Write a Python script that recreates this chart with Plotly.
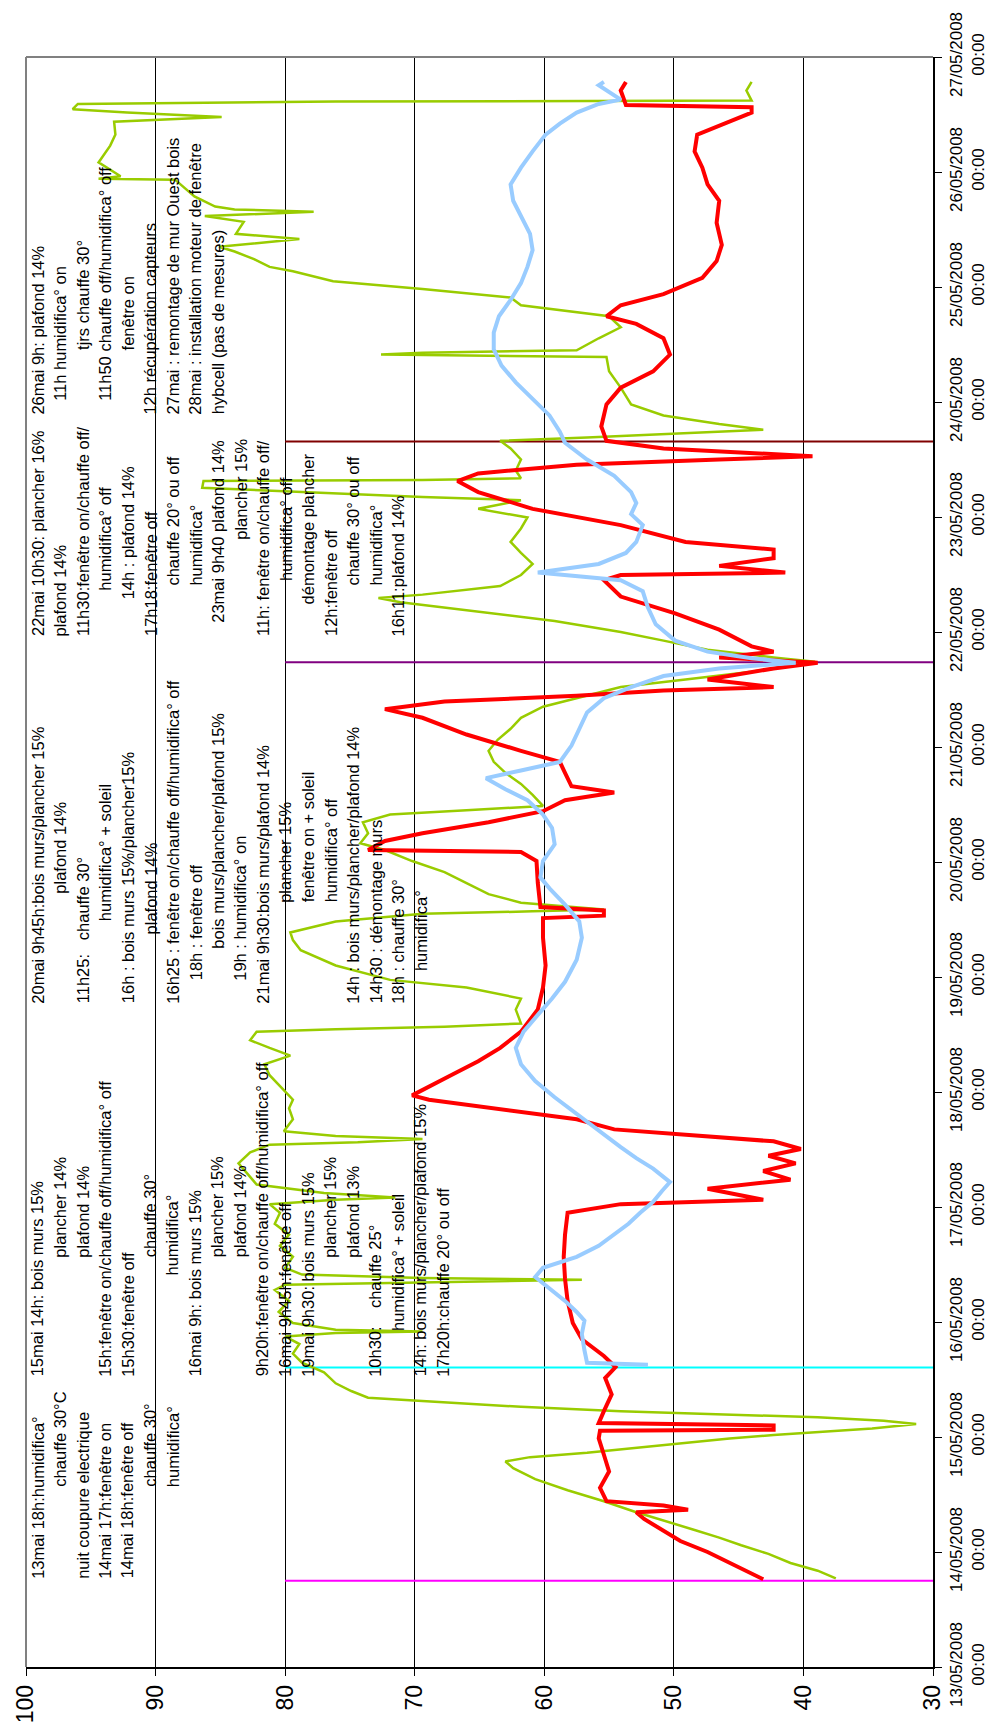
import pandas as pd
import plotly.graph_objects as go

# --- data; time in hours after 13/05/2008 00:00 ---
red_hours = [18.3, 21.3, 24.0, 26.3, 28.6, 30.9, 32.3, 32.8, 33.7, 34.6,
             37.4, 40.8, 44.3, 47.7, 49.3, 49.5, 50.4, 50.9, 53.4, 56.9,
             60.3, 62.6, 64.9, 68.4, 71.8, 76.4, 81.0, 85.6, 90.2, 94.8,
             96.6, 97.5, 99.8, 101.7, 103.5, 105.1, 106.7, 108.1, 109.7, 111.3,
             112.2, 114.3, 115.9, 117.3, 118.4, 119.3, 121.2, 123.5, 126.4, 129.2,
             132.6, 137.2, 141.8, 146.4, 152.2, 156.3, 156.8, 157.9, 158.6, 163.6,
             168.2, 170.1, 170.5, 172.4, 174.0, 176.3, 178.6, 180.9, 182.5, 183.8,
             186.6, 188.9, 191.2, 194.6, 198.1, 199.9, 201.5, 202.7, 203.8, 204.5,
             206.1, 208.4, 209.6, 210.7, 211.9, 213.0, 216.5, 219.9, 223.4, 226.8,
             227.9, 228.4, 229.8, 231.4, 233.2, 234.8, 238.3, 241.7, 245.2, 247.5,
             249.1, 250.9, 252.0, 252.7, 254.3, 255.9, 258.9, 263.5, 267.0, 270.4,
             273.9, 277.3, 280.3, 281.9, 284.2, 286.5, 289.9, 293.4, 296.8, 301.4,
             306.0, 309.4, 312.9, 316.3, 319.8, 322.1, 324.4, 325.5, 326.0, 329.0,
             330.8]
red_val = [43.1, 45.3, 47.4, 49.5, 50.9, 52.3, 52.9, 48.9, 50.8, 55.2,
           55.7, 55.0, 55.4, 55.8, 55.7, 42.3, 42.3, 55.8, 55.4, 54.8,
           55.3, 54.5, 55.4, 57.1, 57.8, 58.2, 58.4, 58.5, 58.4, 58.2,
           54.1, 43.1, 47.4, 41.0, 43.1, 40.6, 42.7, 40.2, 42.3, 50.8,
           54.6, 57.5, 61.8, 66.0, 68.9, 70.2, 68.9, 67.2, 65.1, 63.4,
           61.8, 60.5, 60.1, 59.9, 60.1, 60.1, 55.4, 55.4, 60.3, 60.5,
           60.6, 61.8, 73.6, 72.3, 69.4, 64.3, 60.1, 58.4, 54.6, 57.9,
           58.4, 58.8, 61.8, 66.0, 69.4, 72.3, 67.7, 57.5, 50.8, 42.3,
           47.4, 42.3, 38.9, 46.5, 42.3, 44.0, 46.5, 49.9, 54.1, 55.4,
           54.1, 41.4, 46.5, 42.3, 42.3, 49.1, 54.1, 60.9, 65.1, 66.7,
           65.1, 57.5, 46.5, 39.3, 50.8, 55.2, 55.6, 55.2, 54.1, 51.6,
           50.3, 50.8, 52.9, 55.2, 54.1, 50.8, 47.8, 46.7, 46.3, 46.7,
           46.5, 47.4, 47.8, 48.4, 48.2, 46.1, 44.0, 44.0, 53.7, 54.1,
           53.7]

blue_hours = [63.1, 63.5, 66.1, 69.5, 72.3, 74.1, 76.4, 79.1, 81.4, 83.3,
              85.6, 87.9, 90.2, 92.5, 94.8, 97.1, 99.4, 101.2, 104.0, 106.2,
              108.5, 112.0, 115.4, 118.9, 122.3, 125.8, 129.2, 132.6, 136.1, 139.5,
              143.0, 147.6, 152.2, 155.6, 159.1, 162.5, 164.8, 168.2, 171.7, 175.1,
              177.9, 180.9, 183.2, 185.5, 187.1, 188.9, 192.3, 195.8, 199.2, 202.2,
              204.5, 206.8, 208.4, 209.6, 210.5, 211.9, 214.2, 217.6, 221.1, 224.5,
              226.8, 228.4, 230.2, 232.5, 234.8, 238.3, 240.6, 242.9, 245.2, 248.6,
              252.0, 255.5, 257.8, 261.2, 264.7, 268.1, 271.6, 275.0, 278.5, 281.9,
              285.3, 288.8, 292.2, 295.7, 299.1, 302.6, 306.0, 309.4, 312.9, 316.3,
              319.8, 322.1, 324.4, 326.2, 327.1, 330.1, 330.8]
blue_val = [52.0, 56.7, 56.9, 57.1, 56.9, 57.5, 58.4, 59.6, 60.7, 60.1,
            57.5, 55.8, 54.6, 53.5, 52.6, 51.6, 50.9, 50.3, 51.6, 52.9,
            54.1, 55.8, 57.5, 59.2, 60.7, 61.8, 62.2, 61.6, 60.5, 59.4,
            58.4, 57.5, 57.1, 57.3, 58.4, 59.6, 60.3, 60.1, 59.2, 59.4,
            60.1, 61.3, 63.0, 64.5, 61.8, 58.8, 57.9, 57.3, 56.7, 55.4,
            53.3, 50.8, 46.5, 40.6, 44.0, 47.4, 49.9, 51.4, 52.0, 52.4,
            54.1, 60.5, 55.8, 53.7, 52.9, 52.4, 53.3, 52.9, 53.3, 54.6,
            56.7, 58.4, 58.8, 59.6, 60.9, 62.2, 63.3, 63.9, 63.9, 63.5,
            62.6, 61.8, 61.3, 60.9, 61.1, 61.8, 62.4, 62.6, 61.8, 60.9,
            59.9, 58.8, 57.5, 55.8, 54.1, 55.8, 55.4]

green_hours = [18.5, 20.1, 21.7, 23.6, 25.4, 27.0, 28.6, 30.5, 32.3, 34.6,
               36.9, 39.2, 41.5, 42.9, 43.8, 44.7, 45.9, 46.8, 47.7, 48.4,
               49.1, 49.8, 50.7, 51.4, 52.1, 52.7, 53.4, 54.3, 55.3, 56.2,
               57.6, 59.2, 61.5, 63.5, 65.4, 67.4, 69.0, 69.7, 70.0, 70.4,
               71.8, 74.1, 76.4, 78.7, 79.8, 80.3, 80.8, 81.2, 81.9, 83.3,
               85.6, 87.9, 90.2, 92.5, 94.8, 96.6, 97.5, 98.0, 98.9, 100.7,
               102.8, 105.1, 107.4, 109.0, 109.5, 110.2, 110.8, 111.8, 114.3, 116.6,
               118.4, 121.2, 123.5, 125.8, 127.6, 129.2, 130.8, 132.6, 133.1, 133.6,
               134.3, 137.2, 139.5, 141.8, 143.4, 146.4, 149.6, 151.7, 153.3, 155.6,
               157.2, 157.7, 158.1, 159.5, 161.3, 163.6, 165.9, 168.2, 170.5, 171.9,
               174.0, 176.3, 177.9, 178.8, 179.7, 182.0, 184.3, 186.6, 188.9, 191.2,
               193.5, 195.8, 198.1, 200.4, 202.2, 204.5, 206.1, 207.7, 209.1, 209.8,
               210.7, 212.3, 214.2, 216.0, 218.3, 220.6, 222.2, 223.1, 223.8, 225.6,
               227.9, 230.2, 232.5, 234.8, 237.6, 239.9, 241.7, 243.5, 244.2, 246.1,
               247.5, 247.7, 248.1, 249.7, 252.0, 254.3, 255.9, 256.6, 257.3, 258.2,
               259.4, 261.2, 263.5, 267.0, 270.4, 273.4, 273.9, 274.3, 274.8, 277.3,
               279.6, 281.9, 284.2, 285.8, 287.6, 289.2, 291.3, 292.2, 293.8, 295.4,
               296.4, 298.0, 299.1, 301.6, 302.8, 303.7, 304.2, 304.8, 306.9, 310.4,
               310.6, 311.1, 314.0, 317.5, 319.8, 322.5, 323.5, 324.4, 325.1, 326.2,
               326.7, 326.9, 329.0, 330.8]
green_val = [37.5, 38.9, 41.0, 42.7, 44.8, 46.5, 48.4, 50.8, 52.9, 55.4,
             58.2, 60.7, 62.4, 63.0, 61.1, 56.7, 52.4, 49.1, 45.7, 42.3,
             38.1, 34.7, 31.3, 33.8, 38.9, 46.5, 54.1, 61.8, 67.7, 73.6,
             74.9, 76.1, 77.0, 78.7, 79.4, 78.9, 80.0, 76.1, 69.4, 76.1,
             79.4, 80.5, 79.7, 80.8, 80.0, 67.7, 57.1, 69.4, 78.7, 80.0,
             79.4, 80.4, 79.7, 80.8, 80.4, 81.2, 76.1, 71.5, 77.0, 82.2,
             82.9, 83.6, 82.7, 81.2, 74.4, 69.4, 76.1, 80.1, 79.4, 79.7,
             79.4, 80.4, 81.2, 81.6, 79.6, 81.2, 82.7, 82.2, 76.1, 67.7,
             61.8, 62.2, 61.8, 66.0, 71.9, 76.1, 78.8, 79.4, 79.6, 76.1,
             69.4, 60.9, 55.4, 61.8, 64.3, 66.0, 67.7, 70.2, 72.3, 74.2,
             73.6, 74.0, 71.9, 66.0, 60.1, 60.9, 61.8, 63.0, 63.9, 64.3,
             63.6, 62.6, 61.8, 60.1, 57.5, 54.1, 49.1, 44.0, 40.6, 39.1,
             42.3, 47.4, 50.8, 54.1, 59.2, 66.0, 71.1, 72.8, 69.4, 63.4,
             61.8, 60.9, 61.8, 62.6, 61.8, 61.3, 65.1, 61.8, 69.4, 86.4,
             86.3, 69.4, 61.8, 62.2, 61.8, 62.6, 63.4, 56.7, 50.8, 43.1,
             46.5, 50.8, 53.3, 54.1, 55.0, 55.2, 72.6, 69.4, 57.5, 55.8,
             54.1, 55.0, 61.8, 62.6, 69.4, 76.3, 79.4, 81.2, 82.4, 83.9,
             85.1, 78.9, 83.8, 83.2, 86.2, 77.8, 83.9, 85.4, 87.0, 88.5,
             94.4, 92.7, 94.4, 93.5, 93.1, 93.2, 84.9, 92.2, 96.4, 96.0,
             76.1, 44.0, 44.4, 44.0]

event_time = ["2008-05-13 18:00", "2008-05-15 14:30", "2008-05-21 17:40", "2008-05-23 15:45"]

value_ticks = [100, 90, 80, 70, 60, 50, 40, 30]
date_ticks = ["2008-05-%02d" % d for d in range(13, 28)]
date_labels = ["%02d/05/2008<br>00:00" % d for d in range(13, 28)]

note_13mai = ["13mai 18h:humidifica°",
              " " * 20 + "chauffe 30°C",
              "nuit coupure electrique",
              "14mai 17h:fenêtre on",
              "14mai 18h:fenêtre off",
              " " * 20 + "chauffe 30°",
              " " * 20 + "humidifica°"]
note_15mai = ["15mai 14h: bois murs 15%",
              " " * 26 + "plancher 14%",
              " " * 26 + "plafond 14%",
              "15h:fenêtre on/chauffe off/humidifica° off",
              "15h30:fenêtre off",
              " " * 26 + "chauffe 30°",
              " " * 22 + "humidifica°",
              "16mai 9h: bois murs 15%",
              " " * 26 + "plancher 15%",
              " " * 26 + "plafond 14%",
              "9h20h:fenêtre on/chauffe off/humidifica° off",
              "16mai 9h45h:fenêtre off",
              "19mai 9h30: bois murs 15%",
              " " * 26 + "plancher 15%",
              " " * 26 + "plafond 13%",
              "10h30:    chauffe 25°",
              " " * 10 + "humidifica° + soleil",
              "14h: bois murs/plancher/plafond 15%",
              "17h20h:chauffe 20° ou off"]
note_20mai = ["20mai 9h45h:bois murs/plancher 15%",
              " " * 24 + "plafond 14%",
              "11h25:   chauffe 30°",
              " " * 18 + "humidifica° + soleil",
              "16h : bois murs 15%/plancher15%",
              " " * 15 + "plafond 14%",
              "16h25 : fenêtre on/chauffe off/humidifica° off",
              " " * 5 + "18h : fenêtre off",
              " " * 12 + "bois murs/plancher/plafond 15%",
              " " * 5 + "19h : humidifica° on",
              "21mai 9h30:bois murs/plafond 14%",
              " " * 22 + "plancher 15%",
              " " * 22 + "fenêtre on + soleil",
              " " * 22 + "humidifica° off",
              "14h : bois murs/plancher/plafond 14%",
              "14h30 : démontage murs",
              "18h : chauffe 30°",
              " " * 7 + "humidifica°"]
note_22mai = ["22mai 10h30: plancher 16%",
              "plafond 14%",
              "11h30:fenêtre on/chauffe off/",
              " " * 10 + "humidifica° off",
              " " * 8 + "14h : plafond 14%",
              "17h18:fenêtre off",
              " " * 11 + "chauffe 20° ou off",
              " " * 11 + "humidifica°",
              " " * 3 + "23mai 9h40 plafond 14%",
              " " * 21 + "plancher 15%",
              "11h: fenêtre on/chauffe off/",
              " " * 12 + "humidifica° off",
              " " * 7 + "démontage plancher",
              "12h:fenêtre off",
              " " * 11 + "chauffe 30° ou off",
              " " * 11 + "humidifica°",
              "16h11:plafond 14%"]
note_26mai = ["26mai 9h: plafond 14%",
              " " * 3 + "11h humidifica° on",
              " " * 14 + "tjrs chauffe 30°",
              " " * 3 + "11h50 chauffe off/humidifica° off",
              " " * 14 + "fenêtre on",
              "12h récupération capteurs",
              "27mai : remontage de mur Ouest bois",
              "28mai : installation moteur de fenêtre",
              "hybcell (pas de mesures)"]

# --- layout helpers (pixel geometry of the plot area) ---
W, H = 1000, 1735
L, R, T, B = 20, 935, 55, 1673
FONT = "Liberation Sans, Arial, sans-serif"
t0 = pd.Timestamp("2008-05-13 00:00")


def to_time(hours):
    return t0 + pd.to_timedelta(hours, unit="h")


fig = go.Figure()
fig.add_trace(go.Scatter(x=green_val, y=to_time(green_hours), mode="lines",
                         line=dict(color="#99CC00", width=2.5)))
fig.add_trace(go.Scatter(x=red_val, y=to_time(red_hours), mode="lines",
                         line=dict(color="#FF0000", width=4)))
fig.add_trace(go.Scatter(x=blue_val, y=to_time(blue_hours), mode="lines",
                         line=dict(color="#99CCFF", width=4)))

# event markers (drawn from 80 to 30)
for t, c in zip(event_time, ["#FF00FF", "#00FFFF", "#800080", "#800000"]):
    fig.add_shape(type="line", xref="x", yref="y", x0=80, x1=30, y0=t, y1=t,
                  line=dict(color=c, width=2), layer="between")

# grey plot-area border (top / left)
fig.add_shape(type="line", xref="paper", yref="paper", x0=0, x1=1, y0=1, y1=1,
              line=dict(color="#808080", width=2))
fig.add_shape(type="line", xref="paper", yref="paper", x0=0, x1=0, y0=0, y1=1,
              line=dict(color="#808080", width=2))

# notes: rotated text, one annotation per line
blocks = [(note_13mai, 32, 1585), (note_15mai, 32, 1382), (note_20mai, 32, 1007),
          (note_22mai, 32, 638), (note_26mai, 32, 415)]
step = 22.7
for lines, x0, y0 in blocks:
    for i, txt in enumerate(lines):
        px = x0 + i * step
        fig.add_annotation(text=txt.replace(" ", "\u00a0"), xref="paper", yref="paper",
                           x=(px - L) / (R - L), y=(B - y0) / (B - T),
                           xanchor="center", yanchor="bottom", textangle=-90,
                           showarrow=False, borderpad=0,
                           font=dict(family=FONT, size=16.5, color="black"))

fig.update_layout(
    width=W, height=H, showlegend=False,
    plot_bgcolor="white", paper_bgcolor="white",
    margin=dict(l=L, r=W - R, t=T, b=H - B),
    xaxis=dict(range=[100, 30], tickvals=value_ticks, ticktext=[str(v) for v in value_ticks],
               tickangle=-90, ticks="outside", ticklen=7, tickcolor="black",
               showline=True, linecolor="black", linewidth=1.5,
               showgrid=True, gridcolor="black", gridwidth=1, zeroline=False,
               tickfont=dict(family=FONT, size=23, color="black")),
    yaxis=dict(type="date", range=["2008-05-13", "2008-05-27"], side="right",
               tickvals=date_ticks, ticktext=date_labels, tickangle=-90,
               ticks="outside", ticklen=7, tickcolor="black",
               showline=True, linecolor="black", linewidth=1.5,
               showgrid=False, zeroline=False,
               tickfont=dict(family=FONT, size=17, color="black")),
)

fig.write_html("out.html", config={"displayModeBar": False},
               post_script="document.body.style.margin='0';")
